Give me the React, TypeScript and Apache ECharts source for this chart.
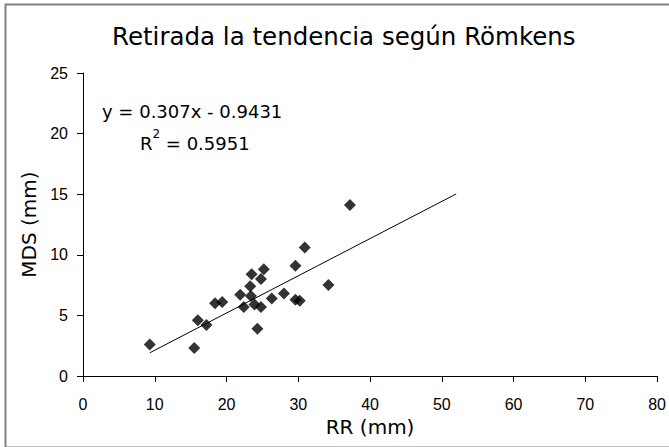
import React, { useEffect, useRef } from "react";
import * as echarts from "echarts";

const rrValues = [9.3, 15.5, 16.0, 17.2, 18.4, 19.4, 21.9, 22.4, 23.3, 23.4, 23.5, 23.9, 24.3, 24.8, 24.8, 25.2, 26.3, 28.0, 29.6, 29.6, 30.2, 30.9, 34.2, 37.2];
const mdsValues = [2.6, 2.3, 4.6, 4.2, 6.0, 6.1, 6.7, 5.7, 7.4, 6.6, 8.4, 5.9, 3.9, 5.7, 8.0, 8.8, 6.4, 6.8, 9.1, 6.3, 6.2, 10.6, 7.5, 14.1];
const trendSlope = 0.307;
const trendIntercept = -0.9431;
const trendRange = [9.3, 52];
const titleText = "Retirada la tendencia según Römkens";
const eqText = "y = 0.307x - 0.9431";
const r2Text = "{r|R}{s|2}{r| = 0.5951}";

export default function App() {
  const ref = useRef<HTMLDivElement>(null);
  useEffect(() => {
    if (!ref.current) return;
    const chart = echarts.init(ref.current, null, { renderer: "svg" });
    const labelFont = "Liberation Sans";
    const textFont = "DejaVu Sans";
    const scatter = rrValues.map((x, i) => [x, mdsValues[i]]);
    const trend = trendRange.map((x) => [x, trendSlope * x + trendIntercept]);
    chart.setOption({
      animation: false,
      backgroundColor: "#fff",
      textStyle: { fontFamily: textFont },
      title: {
        text: titleText,
        left: 107,
        top: 19,
        textStyle: { fontFamily: textFont, fontSize: 24.5, fontWeight: "normal", color: "#000" },
      },
      grid: { left: 83, right: 8, top: 73, bottom: 71 },
      xAxis: {
        type: "value",
        min: 0,
        max: 80,
        interval: 10,
        name: "RR (mm)",
        nameLocation: "middle",
        nameGap: 37,
        nameTextStyle: { fontFamily: textFont, fontSize: 20, color: "#000" },
        axisLine: { show: true, lineStyle: { color: "#000", width: 1 } },
        axisTick: { show: true, length: 6, lineStyle: { color: "#000" } },
        axisLabel: { fontFamily: labelFont, fontSize: 16, color: "#000", margin: 20 },
        splitLine: { show: false },
      },
      yAxis: {
        type: "value",
        min: 0,
        max: 25,
        interval: 5,
        name: "MDS (mm)",
        nameLocation: "middle",
        nameGap: 40,
        nameTextStyle: { fontFamily: textFont, fontSize: 20, color: "#000" },
        axisLine: { show: true, lineStyle: { color: "#000", width: 1 } },
        axisTick: { show: true, length: 6, lineStyle: { color: "#000" } },
        axisLabel: { fontFamily: labelFont, fontSize: 16, color: "#000", margin: 15 },
        splitLine: { show: false },
      },
      graphic: [
        {
          type: "rect",
          left: 3,
          top: 2,
          shape: { width: 700, height: 443 },
          style: { fill: "none", stroke: "#808080", lineWidth: 2 },
          silent: true,
        },
        {
          type: "text",
          left: 102,
          top: 102,
          style: { text: eqText, fontFamily: textFont, fontSize: 18, fill: "#000" },
        },
        {
          type: "text",
          left: 140,
          top: 128,
          style: {
            text: r2Text,
            fontFamily: textFont,
            fill: "#000",
            rich: {
              r: { fontFamily: textFont, fontSize: 18, color: "#000", lineHeight: 24, verticalAlign: "bottom" },
              s: { fontFamily: textFont, fontSize: 12, color: "#000", lineHeight: 24, verticalAlign: "top" },
            },
          },
        },
      ],
      series: [
        {
          type: "scatter",
          data: scatter,
          symbol: "diamond",
          symbolSize: 12,
          itemStyle: { color: "#000" },
        },
        {
          type: "line",
          data: trend,
          showSymbol: false,
          symbol: "none",
          lineStyle: { color: "#000", width: 1 },
        },
      ],
    });
    return () => chart.dispose();
  }, []);
  return <div ref={ref} style={{ position: "fixed", left: 0, top: 0, width: 669, height: 447 }} />;
}
